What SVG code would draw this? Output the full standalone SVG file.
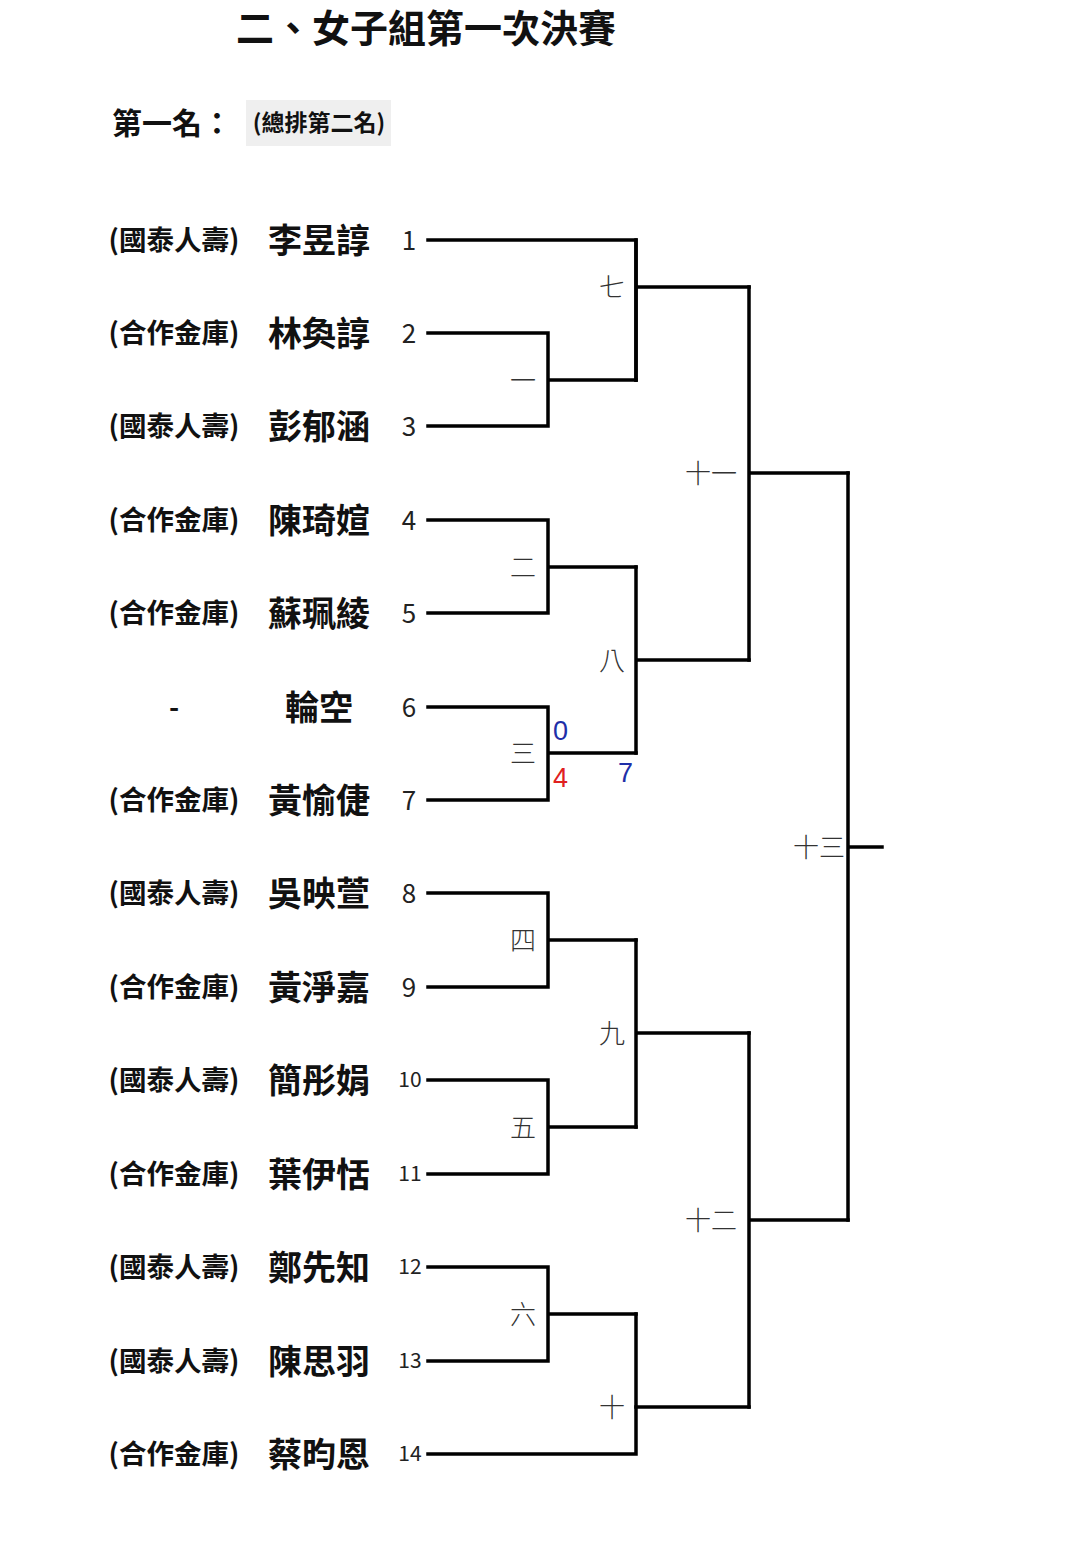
<svg xmlns="http://www.w3.org/2000/svg" width="1066" height="1563" viewBox="0 0 1066 1563">
<style>
text{font-family:"Noto Sans CJK TC","Noto Sans",sans-serif;fill:#111;dominant-baseline:central}
.org{font-size:27.5px;font-weight:bold;text-anchor:middle}
.name{font-size:34px;font-weight:bold;text-anchor:middle}
.num{font-size:26px;text-anchor:middle;fill:#222}
.num2{font-size:21px;text-anchor:middle;fill:#222}
.rd{font-size:26px;font-weight:300;text-anchor:middle;fill:#333}
.ln{fill:none;stroke:#000;stroke-width:3.5;stroke-linejoin:miter;stroke-linecap:square}
.sc{font-size:27px;font-family:"Liberation Sans",sans-serif}
</style>
<rect width="1066" height="1563" fill="#fff"/>
<g id="title"><text x="426" y="25" style="font-size:38px;font-weight:bold;text-anchor:middle">二、女子組第一次決賽</text></g>
<g id="first-place">
<text x="112" y="121" style="font-size:30px;font-weight:bold">第一名：</text>
<rect x="246" y="100" width="145" height="46" fill="#efefef"/>
<text x="319" y="121" style="font-size:23px;font-weight:bold;text-anchor:middle">(總排第二名)</text>
</g>
<g id="players" transform="translate(0,-2)">
<g id="p1"><text class="org" x="174" y="240">(國泰人壽)</text><text class="name" x="319" y="240">李昱諄</text><text class="num" x="409" y="240">1</text></g>
<g id="p2"><text class="org" x="174" y="333">(合作金庫)</text><text class="name" x="319" y="333">林奐諄</text><text class="num" x="409" y="333">2</text></g>
<g id="p3"><text class="org" x="174" y="426">(國泰人壽)</text><text class="name" x="319" y="426">彭郁涵</text><text class="num" x="409" y="426">3</text></g>
<g id="p4"><text class="org" x="174" y="520">(合作金庫)</text><text class="name" x="319" y="520">陳琦媗</text><text class="num" x="409" y="520">4</text></g>
<g id="p5"><text class="org" x="174" y="613">(合作金庫)</text><text class="name" x="319" y="613">蘇珮綾</text><text class="num" x="409" y="613">5</text></g>
<g id="p6"><text class="org" x="174" y="707">-</text><text class="name" x="319" y="707">輪空</text><text class="num" x="409" y="707">6</text></g>
<g id="p7"><text class="org" x="174" y="800">(合作金庫)</text><text class="name" x="319" y="800">黃愉倢</text><text class="num" x="409" y="800">7</text></g>
<g id="p8"><text class="org" x="174" y="893">(國泰人壽)</text><text class="name" x="319" y="893">吳映萱</text><text class="num" x="409" y="893">8</text></g>
<g id="p9"><text class="org" x="174" y="987">(合作金庫)</text><text class="name" x="319" y="987">黃淨嘉</text><text class="num" x="409" y="987">9</text></g>
<g id="p10"><text class="org" x="174" y="1080">(國泰人壽)</text><text class="name" x="319" y="1080">簡彤娟</text><text class="num2" x="410" y="1080">10</text></g>
<g id="p11"><text class="org" x="174" y="1174">(合作金庫)</text><text class="name" x="319" y="1174">葉伊恬</text><text class="num2" x="410" y="1174">11</text></g>
<g id="p12"><text class="org" x="174" y="1267">(國泰人壽)</text><text class="name" x="319" y="1267">鄭先知</text><text class="num2" x="410" y="1267">12</text></g>
<g id="p13"><text class="org" x="174" y="1361">(國泰人壽)</text><text class="name" x="319" y="1361">陳思羽</text><text class="num2" x="410" y="1361">13</text></g>
<g id="p14"><text class="org" x="174" y="1454">(合作金庫)</text><text class="name" x="319" y="1454">蔡昀恩</text><text class="num2" x="410" y="1454">14</text></g>
</g>
<g id="connectors">
<path class="ln" d="M428 240H636V380"/>
<path class="ln" d="M428 333H548V426H428M548 380H636"/>
<path class="ln" d="M428 520H548V613H428M548 567H636"/>
<path class="ln" d="M428 707H548V800H428M548 753H636"/>
<path class="ln" d="M428 893H548V987H428M548 940H636"/>
<path class="ln" d="M428 1080H548V1174H428M548 1127H636"/>
<path class="ln" d="M428 1267H548V1361H428M548 1314H636"/>
<path class="ln" d="M428 1454H636V1314"/>
<path class="ln" d="M636 240V380M636 287H749"/>
<path class="ln" d="M636 567V753M636 660H749"/>
<path class="ln" d="M636 940V1127M636 1033H749"/>
<path class="ln" d="M636 1407H749"/>
<path class="ln" d="M749 287V660M749 473H848"/>
<path class="ln" d="M749 1033V1407M749 1220H848"/>
<path class="ln" d="M848 473V1220M848 847H882"/>
</g>
<g id="rounds" transform="translate(0,-2)">
<text class="rd" x="523" y="380">一</text>
<text class="rd" x="523" y="567">二</text>
<text class="rd" x="523" y="753">三</text>
<text class="rd" x="523" y="940">四</text>
<text class="rd" x="523" y="1127">五</text>
<text class="rd" x="523" y="1314">六</text>
<text class="rd" x="612" y="287">七</text>
<text class="rd" x="612" y="660">八</text>
<text class="rd" x="612" y="1033">九</text>
<text class="rd" x="612" y="1407">十</text>
<text class="rd" x="711" y="473">十一</text>
<text class="rd" x="711" y="1220">十二</text>
<text class="rd" x="819" y="847">十三</text>
</g>
<g id="scores">
<text class="sc" x="553" y="731" style="fill:#1f2fa8">0</text>
<text class="sc" x="553" y="778" style="fill:#e02020">4</text>
<text class="sc" x="618" y="773" style="fill:#1f2fa8">7</text>
</g>
</svg>
